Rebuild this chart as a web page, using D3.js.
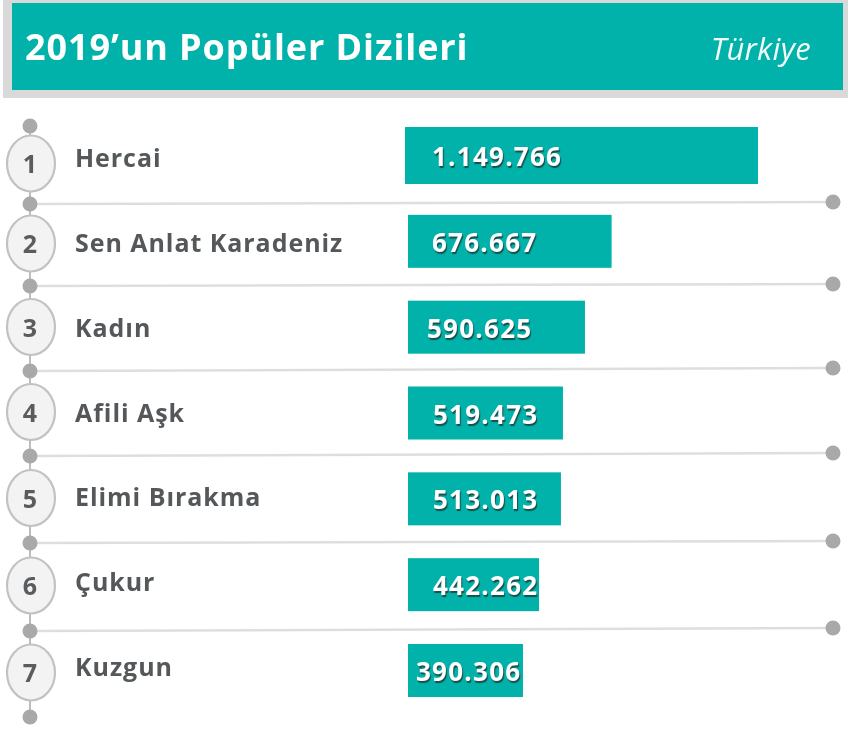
<!DOCTYPE html>
<html lang="tr">
<head>
<meta charset="utf-8">
<title>2019'un Popüler Dizileri</title>
<script src="https://cdn.jsdelivr.net/npm/d3@7"></script>
<style>
  html, body { margin: 0; padding: 0; background: #fff; }
  svg { display: block; filter: blur(0.6px); }
  text { font-family: "Open Sans", sans-serif; }
  .title { font-size: 36px; font-weight: 700; fill: #fff; letter-spacing: 0.9px; }
  .region { font-size: 31px; font-style: italic; fill: #f2fbfa; letter-spacing: 0.3px; }
  .name { font-size: 25px; font-weight: 700; fill: #55585a; letter-spacing: 0.95px; }
  .rank { font-size: 25px; font-weight: 700; fill: #5a5d5f; }
  .value { font-size: 26px; font-weight: 700; fill: #fff; letter-spacing: 1.25px;
           text-shadow: 1px 2px 1px rgba(30, 60, 60, 0.85); }
</style>
</head>
<body>
<div id="chart-wrap"></div>
<script>
const titleText = "2019’un Popüler Dizileri";
const regionText = "Türkiye";
const ranks = [1, 2, 3, 4, 5, 6, 7];
const names = ["Hercai", "Sen Anlat Karadeniz", "Kadın", "Afili Aşk", "Elimi Bırakma", "Çukur", "Kuzgun"];
const views = [1149766, 676667, 590625, 519473, 513013, 442262, 390306];

const width = 848;
const height = 743;
const teal = "#00b2a9";

// label starts wander inside the bars in the original
const labelInset = [27, 24, 19, 25, 25, 25, 8];
// the rail stops are not evenly spaced either
const railStops = [126, 204, 286, 371, 456, 543, 631, 717];
const lineEnds = [202, 284, 368, 453, 541, 628];

const tr = d3.formatLocale({ decimal: ",", thousands: ".", grouping: [3], currency: ["", ""] });
const fmt = tr.format(",d");

const svg = d3.select("#chart-wrap")
  .append("svg")
  .attr("width", width)
  .attr("height", height);

// header
svg.append("rect").attr("x", 3).attr("y", 0).attr("width", 845).attr("height", 98).attr("fill", "#d9d9d9");
svg.append("rect").attr("x", 12).attr("y", 3).attr("width", 831).attr("height", 87).attr("fill", teal);
svg.append("text").attr("class", "title").attr("x", 25).attr("y", 60).text(titleText);
svg.append("text").attr("class", "region").attr("x", 811).attr("y", 60).attr("text-anchor", "end").text(regionText);

// bar scale starts a little above zero, that is what fits the drawn bars
const x = d3.scaleLinear().domain([18800, d3.max(views)]).range([408, 758]);
const y = d3.scalePoint().domain(ranks).range([155.5, 670.5]);
// names step slightly tighter than the bars
const nameY = d3.scalePoint().domain(ranks).range([167, 676]);
const railY = d3.scaleLinear().domain(d3.range(railStops.length)).range(railStops);

const rows = ranks.map((r, i) => ({ rank: r, name: names[i], views: views[i], inset: labelInset[i] }));

// rail and separators go under everything else
svg.append("line")
  .attr("x1", 30).attr("x2", 30)
  .attr("y1", railY(0)).attr("y2", railY(7))
  .attr("stroke", "#bdbdbd").attr("stroke-width", 2);

svg.selectAll(".sep")
  .data(lineEnds)
  .join("line")
  .attr("class", "sep")
  .attr("x1", 30).attr("x2", 833)
  .attr("y1", (d, i) => railY(i + 1))
  .attr("y2", d => d)
  .attr("stroke", "#dedede").attr("stroke-width", 2.5);

svg.selectAll(".dot-left")
  .data(d3.range(railStops.length))
  .join("circle")
  .attr("class", "dot-left")
  .attr("cx", 30).attr("cy", d => railY(d)).attr("r", 7.5)
  .attr("fill", "#a9a9a9");

svg.selectAll(".dot-right")
  .data(lineEnds)
  .join("circle")
  .attr("class", "dot-right")
  .attr("cx", 833).attr("cy", d => d).attr("r", 7.5)
  .attr("fill", "#a9a9a9");

const row = svg.selectAll(".row")
  .data(rows)
  .join("g")
  .attr("class", "row");

row.append("ellipse")
  .attr("cx", 31)
  .attr("cy", (d, i) => railY(i + 0.5) - 1.5)
  .attr("rx", 24).attr("ry", 28)
  .attr("fill", "#f3f3f3")
  .attr("stroke", "#c2c2c2")
  .attr("stroke-width", 2.2);

row.append("text")
  .attr("class", "rank")
  .attr("x", 30)
  .attr("y", (d, i) => railY(i + 0.5) + 8)
  .attr("text-anchor", "middle")
  .text(d => d.rank);

row.append("text")
  .attr("class", "name")
  .attr("x", 75)
  .attr("y", d => nameY(d.rank))
  .text(d => d.name);

// first bar sits 3px further left and is a bit taller than the rest
row.append("rect")
  .attr("x", d => x.range()[0] - (d.rank === 1 ? 3 : 0))
  .attr("y", d => y(d.rank) - (d.rank === 1 ? 28.5 : 26.5))
  .attr("width", d => x(d.views) - x.range()[0] + (d.rank === 1 ? 3 : 0))
  .attr("height", d => d.rank === 1 ? 57 : 53)
  .attr("fill", teal);

row.append("text")
  .attr("class", "value")
  .attr("x", d => x.range()[0] + d.inset - (d.rank === 1 ? 3 : 0))
  .attr("y", d => y(d.rank) + 10.5)
  .text(d => fmt(d.views));
</script>
</body>
</html>
